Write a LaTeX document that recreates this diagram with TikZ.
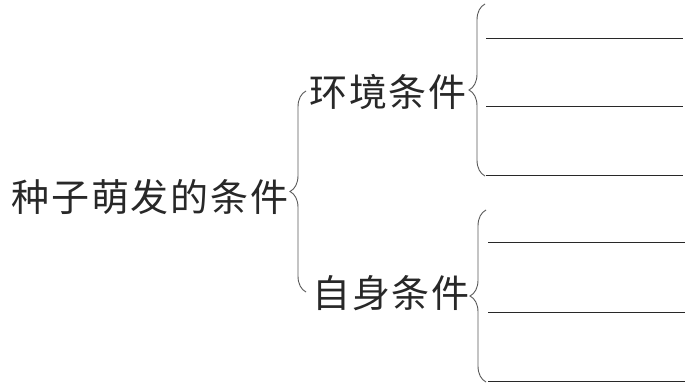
\documentclass[tikz,border=0pt]{standalone}
\usepackage{fontspec}
\newfontfamily\cjk[LetterSpace=5]{Noto Sans CJK SC}
\usetikzlibrary{decorations.pathreplacing}
\definecolor{ink}{RGB}{40,40,40}
\definecolor{bracegray}{RGB}{90,90,90}
\tikzset{
  lbl/.style={inner sep=0pt, text=ink, font=\cjk\fontsize{38}{42}\selectfont},
  curly/.style={draw=bracegray, line width=0.9pt, decorate, decoration={brace, amplitude=16pt}},
  blank/.style={draw=ink, line width=1pt}
}
\begin{document}
\begin{tikzpicture}[x=1pt, y=-1pt]
\useasboundingbox[fill=white] (0,0) rectangle (695,390);
% texts
\node[lbl] (root) at (150,197) {种子萌发的条件};
\node[lbl] (env)  at (388,92)  {环境条件};
\node[lbl] (self) at (391,293) {自身条件};
% brace anchors
\coordinate (rb1) at (306,292);
\coordinate (rt1) at (306,91);
\coordinate (eb) at (485,176);
\coordinate (et) at (485,4);
\coordinate (sb) at (486,382);
\coordinate (st) at (486,210);
\draw[curly] (rb1) -- (rt1);
\draw[curly] (eb) -- (et);
\draw[curly] (sb) -- (st);
% blanks
\coordinate (e1a) at (486,39);  \coordinate (e1b) at (683,39);
\coordinate (e2a) at (486,107); \coordinate (e2b) at (683,107);
\coordinate (e3a) at (486,175); \coordinate (e3b) at (683,175);
\coordinate (s1a) at (488,242); \coordinate (s1b) at (685,242);
\coordinate (s2a) at (488,312); \coordinate (s2b) at (685,312);
\coordinate (s3a) at (488,381); \coordinate (s3b) at (685,381);
\draw[blank] (e1a) -- (e1b);
\draw[blank] (e2a) -- (e2b);
\draw[blank] (e3a) -- (e3b);
\draw[blank] (s1a) -- (s1b);
\draw[blank] (s2a) -- (s2b);
\draw[blank] (s3a) -- (s3b);
\end{tikzpicture}
\end{document}
